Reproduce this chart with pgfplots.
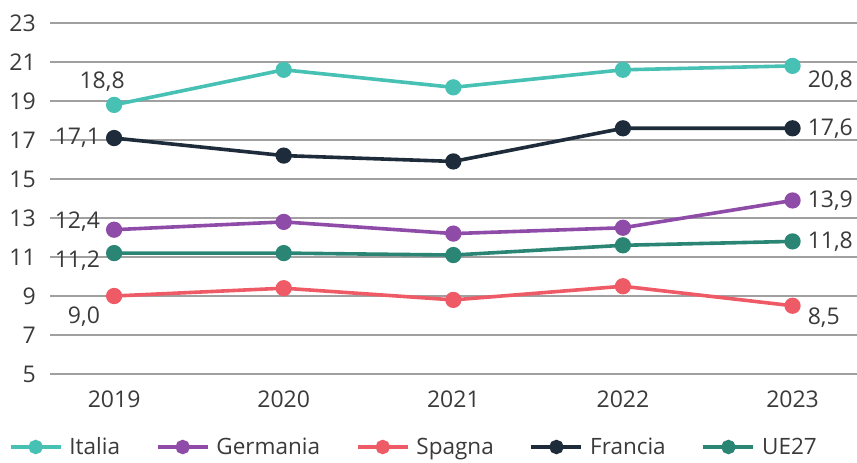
\documentclass[border=0pt]{standalone}
\usepackage{pgfplots}
\pgfplotsset{compat=1.18}
\usepackage{fontspec}
\setmainfont{Open Sans}
\definecolor{cIta}{HTML}{48C1B5}
\definecolor{cGer}{HTML}{8E4BA8}
\definecolor{cSpa}{HTML}{EE5A65}
\definecolor{cFra}{HTML}{1E2B3A}
\definecolor{cUE}{HTML}{2B8575}
\definecolor{cTxt}{HTML}{3A3A3A}
\definecolor{cGrid}{HTML}{A0A0A0}
\begin{document}
\begin{tikzpicture}
\begin{axis}[
  scale only axis,
  width=807pt, height=351pt,
  xmin=-0.378, xmax=4.38,
  ymin=5, ymax=23,
  ytick={5,7,...,23},
  xtick={0,1,2,3,4},
  xticklabels={2019,2020,2021,2022,2023},
  ymajorgrids,
  grid style={cGrid, line width=1.6pt},
  axis line style={draw=none},
  major tick length=0pt,
  /pgf/number format/assume math mode=true,
  tick label style={font=\fontsize{23}{26}\selectfont, text=cTxt, inner sep=0pt},
  xticklabel style={yshift=-17pt},
  yticklabel style={xshift=-14pt},
  every axis plot/.append style={line width=3.6pt, mark=*, mark size=6.3pt},
  legend columns=5,
  legend style={at={(-41pt,-73pt)}, anchor=west, draw=none, inner sep=0pt, outer sep=0pt,
    font=\fontsize{22.5}{26}\selectfont, text=cTxt,
    /tikz/every odd column/.append style={column sep=4pt},
    /tikz/every even column/.append style={column sep=33pt},
    nodes={inner sep=3pt}},
  legend cell align=left,
  legend image code/.code={\draw[mark repeat=2, mark phase=2, line width=3.4pt, mark size=5.5pt, #1] plot coordinates {(0pt,0pt) (25pt,0pt) (50pt,0pt)};},
  clip=false,
]
\addplot[cIta, mark options={fill=cIta}] coordinates {(0,18.8) (1,20.6) (2,19.7) (3,20.6) (4,20.8)};
\addlegendentry{Italia}
\addplot[cGer, mark options={fill=cGer}] coordinates {(0,12.4) (1,12.8) (2,12.2) (3,12.5) (4,13.9)};
\addlegendentry{Germania}
\addplot[cSpa, mark options={fill=cSpa}] coordinates {(0,9.0) (1,9.4) (2,8.8) (3,9.5) (4,8.5)};
\addlegendentry{Spagna}
\addplot[cFra, mark options={fill=cFra}] coordinates {(0,17.1) (1,16.2) (2,15.9) (3,17.6) (4,17.6)};
\addlegendentry{Francia}
\addplot[cUE, mark options={fill=cUE}] coordinates {(0,11.2) (1,11.2) (2,11.1) (3,11.6) (4,11.8)};
\addlegendentry{UE27}

\begin{scope}[every node/.style={font=\fontsize{23}{26}\selectfont, text=cTxt, inner sep=0pt}]
\node[anchor=center, xshift=-12pt, yshift=23pt] at (axis cs:0,18.8) {18,8};
\node[anchor=east, xshift=-14pt] at (axis cs:0,17.1) {17,1};
\node[anchor=east, xshift=-14pt, yshift=8pt] at (axis cs:0,12.4) {12,4};
\node[anchor=east, xshift=-14pt, yshift=-8pt] at (axis cs:0,11.2) {11,2};
\node[anchor=east, xshift=-14pt, yshift=-21pt] at (axis cs:0,9.0) {9,0};
\node[anchor=west, xshift=15pt, yshift=-15pt] at (axis cs:4,20.8) {20,8};
\node[anchor=west, xshift=15pt] at (axis cs:4,17.6) {17,6};
\node[anchor=west, xshift=15pt] at (axis cs:4,13.9) {13,9};
\node[anchor=west, xshift=15pt] at (axis cs:4,11.8) {11,8};
\node[anchor=west, xshift=15pt, yshift=-12pt] at (axis cs:4,8.5) {8,5};
\end{scope}
\end{axis}
\pgfresetboundingbox
\path[use as bounding box] (-50pt,-89pt) rectangle (807pt,374pt);
\end{tikzpicture}
\end{document}
